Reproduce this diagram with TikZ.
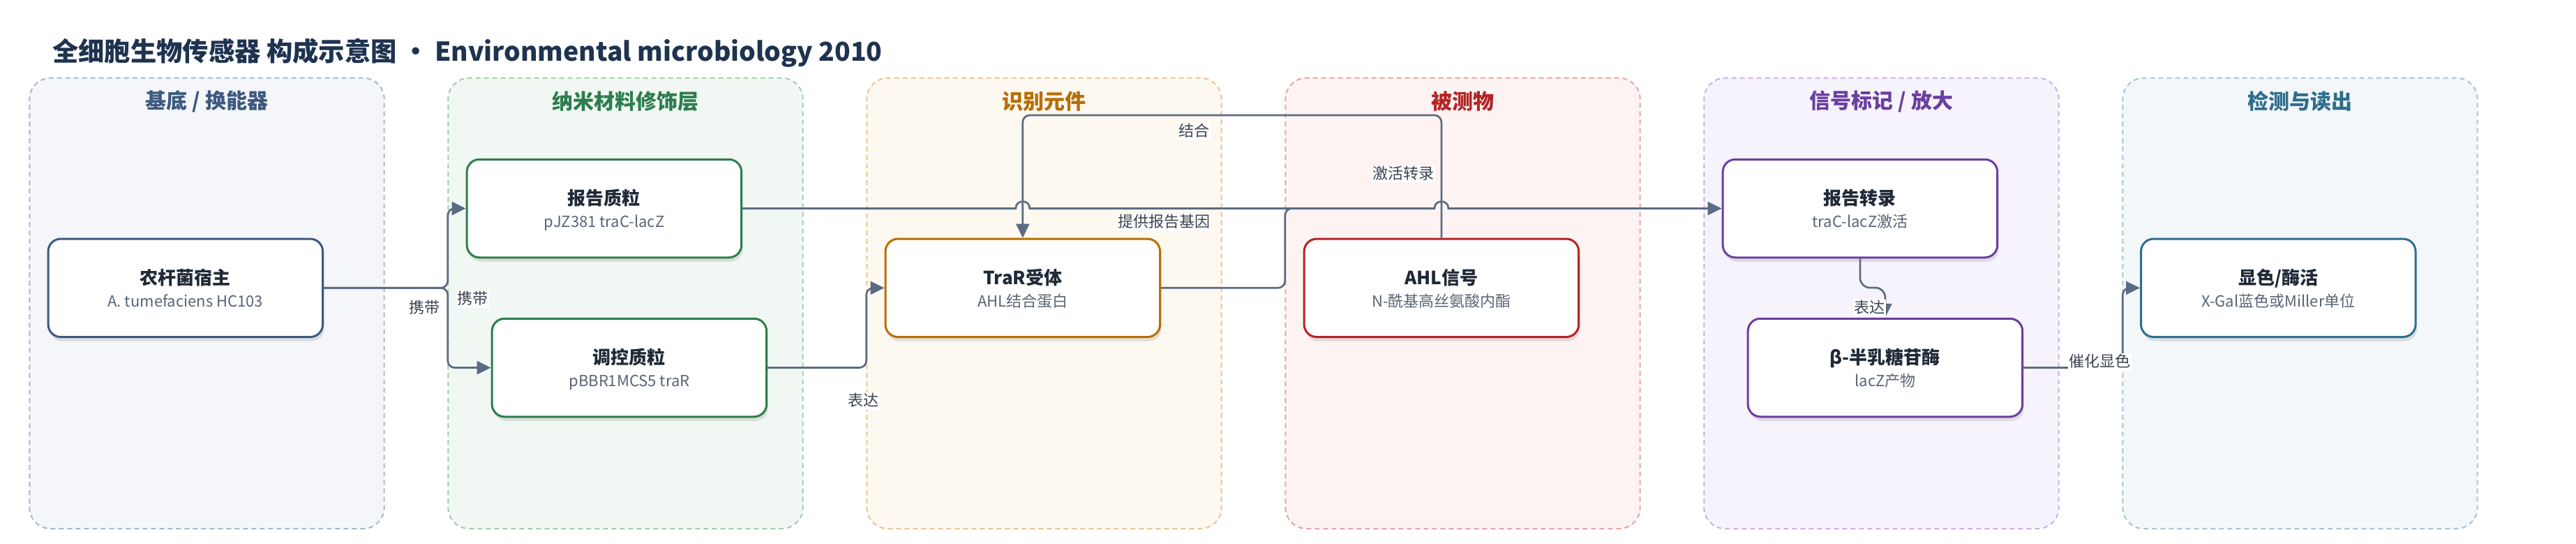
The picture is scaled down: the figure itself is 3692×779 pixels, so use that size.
\documentclass[tikz,border=0pt]{standalone}
\usepackage{fontspec}
\setmainfont{Noto Sans CJK SC}
\usetikzlibrary{calc,arrows.meta,shadows}
\definecolor{cAb}{HTML}{A9B8CC}\definecolor{cAf}{HTML}{F4F6FA}\definecolor{cAt}{HTML}{3D5A80}
\definecolor{cBb}{HTML}{9DCFAE}\definecolor{cBf}{HTML}{F1F8F3}\definecolor{cBt}{HTML}{2E7D4E}
\definecolor{cCb}{HTML}{E9C58F}\definecolor{cCf}{HTML}{FDF8F0}\definecolor{cCt}{HTML}{B86E00}
\definecolor{cDb}{HTML}{E9A3A3}\definecolor{cDf}{HTML}{FDF3F3}\definecolor{cDt}{HTML}{B52424}
\definecolor{cEb}{HTML}{C8B1E4}\definecolor{cEf}{HTML}{F7F3FC}\definecolor{cEt}{HTML}{6B3FA0}
\definecolor{cFb}{HTML}{A7C4D3}\definecolor{cFf}{HTML}{F3F7F9}\definecolor{cFt}{HTML}{2F6E8D}
\definecolor{edgec}{HTML}{5B6B82}
\definecolor{ttlc}{HTML}{1F2937}
\definecolor{subc}{HTML}{5A6474}
\definecolor{labc}{HTML}{3B4452}
\definecolor{mainc}{HTML}{1E3350}
\tikzset{
  grp/.style={draw=#1b, fill=#1f, line width=2, dash pattern=on 7pt off 5pt, rounded corners=30,
    minimum width=508.4, minimum height=645.3, inner sep=0},
  grptitle/.style={text=#1t, font=\bfseries\fontsize{30}{36}\selectfont, anchor=center, inner sep=0},
  box/.style={draw=#1, fill=white, line width=3, rounded corners=18, minimum width=393.6,
    minimum height=140.5, inner sep=0,
    drop shadow={shadow xshift=2pt, shadow yshift=-6pt, opacity=0.10, fill=black}},
  ttl/.style={text=ttlc, font=\bfseries\fontsize{26}{30}\selectfont, inner sep=0, text height=21, text depth=5, anchor=center},
  sub/.style={text=subc, font=\fontsize{22}{26}\selectfont, inner sep=0, text height=17, text depth=5, anchor=center},
  conn/.style={draw=edgec, line width=2.7, rounded corners=10},
  edge/.style={conn, -{Triangle[length=20pt,width=19pt]}},
  elabel/.style={fill=white, text=labc, font=\fontsize{22}{26}\selectfont, inner sep=1.5, text height=18, text depth=4, anchor=center}
}
\begin{document}
\begin{tikzpicture}[x=1pt,y=-1pt]
\useasboundingbox (0,0) rectangle (3692,779);
% title
\node[anchor=west, inner sep=0, text=mainc, font=\bfseries\fontsize{37.3}{44}\selectfont] (title) at (75,76)
  {全细胞生物传感器 构成示意图 · Environmental microbiology 2010};
% groups
\node[grp=cA] (g1) at (296.5,434.35) {};
\node[grp=cB] (g2) at (896.5,434.35) {};
\node[grp=cC] (g3) at (1496.5,434.35) {};
\node[grp=cD] (g4) at (2096.5,434.35) {};
\node[grp=cE] (g5) at (2696.5,434.35) {};
\node[grp=cF] (g6) at (3296.5,434.35) {};
\node[grptitle=cA] (g1t) at (296.5,145.5) {基底 / 换能器};
\node[grptitle=cB] (g2t) at (896.5,145.5) {纳米材料修饰层};
\node[grptitle=cC] (g3t) at (1496.5,145.5) {识别元件};
\node[grptitle=cD] (g4t) at (2096.5,145.5) {被测物};
\node[grptitle=cE] (g5t) at (2696.5,145.5) {信号标记 / 放大};
\node[grptitle=cF] (g6t) at (3296.5,145.5) {检测与读出};
% boxes
\node[box=cAt] (host) at (265.8,412.3) {};
\node[box=cBt] (rep) at (865.9,298.5) {};
\node[box=cBt] (reg) at (901.9,526.5) {};
\node[box=cCt] (trar) at (1465.8,412.3) {};
\node[box=cDt] (ahl) at (2065.9,412.3) {};
\node[box=cEt] (tx) at (2665.9,298.5) {};
\node[box=cEt] (beta) at (2701.9,526.5) {};
\node[box=cFt] (read) at (3265.3,412.3) {};
% coordinates
\coordinate (bx) at (641.7,0);
\coordinate (ex) at (1241.7,0);
\coordinate (ax) at (1841.7,0);
\coordinate (cx) at (3042.3,0);
\coordinate (topy) at (0,165);
\coordinate (midy) at (0,412);
\coordinate (h1) at (trar.north |- rep.east);
\coordinate (h2) at (ahl.north |- rep.east);
% edges
\draw[edge] (host.east) -- (bx |- host.east) |- (rep.west);
\draw[edge] (host.east) -- (bx |- host.east) |- (reg.west);
\draw[edge] (reg.east) -- (ex |- reg.east) |- (trar.west);
\draw[draw=edgec, line width=2.7, -{Triangle[length=20pt,width=19pt]}] (rep.east) -- ($(h1)+(-10,0)$)
  .. controls +(0,-13.3) and +(0,-13.3) .. ($(h1)+(10,0)$) -- ($(h2)+(-10,0)$)
  .. controls +(0,-13.3) and +(0,-13.3) .. ($(h2)+(10,0)$) -- (tx.west);
\draw[conn] (trar.east) -- (ax |- trar.east) -- (ax |- rep.east) -- ($(h2)+(-10,0)$);
\draw[edge] (ahl.north) -- (ahl.north |- topy) -- (trar.north |- topy) -- (trar.north);
\draw[edge, rounded corners=14] (tx.south) -- (tx.south |- midy) -- (beta.north |- midy) -- (beta.north);
\draw[edge] (beta.east) -- (cx |- beta.east) -- (cx |- read.west) -- (read.west);
% box texts
\node[ttl] (host-t) at ($(host)+(0,-13)$) {农杆菌宿主};
\node[sub] (host-s) at ($(host)+(0,21)$) {A. tumefaciens HC103};
\node[ttl] (rep-t) at ($(rep)+(0,-13)$) {报告质粒};
\node[sub] (rep-s) at ($(rep)+(0,21)$) {pJZ381 traC-lacZ};
\node[ttl] (reg-t) at ($(reg)+(0,-13)$) {调控质粒};
\node[sub] (reg-s) at ($(reg)+(0,21)$) {pBBR1MCS5 traR};
\node[ttl] (trar-t) at ($(trar)+(0,-13)$) {TraR受体};
\node[sub] (trar-s) at ($(trar)+(0,21)$) {AHL结合蛋白};
\node[ttl] (ahl-t) at ($(ahl)+(0,-13)$) {AHL信号};
\node[sub] (ahl-s) at ($(ahl)+(0,21)$) {N-酰基高丝氨酸内酯};
\node[ttl] (tx-t) at ($(tx)+(0,-13)$) {报告转录};
\node[sub] (tx-s) at ($(tx)+(0,21)$) {traC-lacZ激活};
\node[ttl] (beta-t) at ($(beta)+(0,-13)$) {β-半乳糖苷酶};
\node[sub] (beta-s) at ($(beta)+(0,21)$) {lacZ产物};
\node[ttl] (read-t) at ($(read)+(0,-13)$) {显色/酶活};
\node[sub] (read-s) at ($(read)+(0,21)$) {X-Gal蓝色或Miller单位};
% edge labels
\node[elabel] (l1) at (608.3,441.7) {携带};
\node[elabel] (l2) at (677.3,428.3) {携带};
\node[elabel] (l3) at (1237,574.8) {表达};
\node[elabel] (l4) at (1668,318) {提供报告基因};
\node[elabel] (l5) at (1711.6,188.9) {结合};
\node[elabel] (l6) at (2011.6,249.6) {激活转录};
\node[elabel] (l7) at (2679,441.7) {表达};
\node[elabel] (l8) at (3009.3,518) {催化显色};
\end{tikzpicture}
\end{document}
